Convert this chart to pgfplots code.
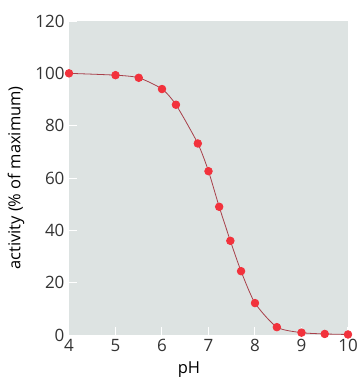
\documentclass[border=0pt]{standalone}
\usepackage{fontspec}
\setmainfont{Open Sans}
\usepackage{pgfplots}
\pgfplotsset{compat=1.18}
\definecolor{bgc}{HTML}{DDE3E2}
\definecolor{linec}{HTML}{A8404A}
\definecolor{markc}{HTML}{F2323C}
\definecolor{txtc}{HTML}{333333}
\begin{document}
\begin{tikzpicture}
\begin{axis}[
  scale only axis,
  width=279pt, height=314pt,
  xmin=4, xmax=10, ymin=0, ymax=120,
  xtick={4,5,6,7,8,9,10},
  ytick={0,20,40,60,80,100,120},
  axis background/.style={fill=bgc},
  axis line style={draw=none},
  tick style={white, line width=1pt},
  major tick length=8pt,
  tick align=inside,
  xtick pos=bottom, ytick pos=left,
  /pgf/number format/assume math mode=true,
  tick label style={font=\fontsize{17}{20}\selectfont, text=txtc},
  label style={font=\fontsize{16.5}{19}\selectfont, text=black},
  xlabel={pH},
  ylabel={activity (\% of maximum)},
  xlabel style={at={(axis description cs:0.43,0)}, anchor=north, yshift=-23pt},
  ylabel style={yshift=4pt},
  yticklabel style={xshift=-1pt},
  xticklabel style={yshift=-1pt},
  clip=false,
]
\addplot[linec, line width=0.8pt, smooth, tension=0.4,
  mark=*, mark size=3.8pt, mark options={fill=markc, draw=markc}]
coordinates {
(4,100) (5,99.3) (5.5,98.3) (6,94) (6.3,88) (6.77,73.2) (7.0,62.6)
(7.23,49) (7.47,36) (7.7,24.4) (8.0,12.2) (8.47,3) (9,0.9) (9.5,0.4) (10,0.2)
};
\end{axis}
\pgfresetboundingbox
\path (current axis.south west) ++(-69pt,-43pt) rectangle ([shift={(10pt,21pt)}]current axis.north east);
\end{tikzpicture}
\end{document}
